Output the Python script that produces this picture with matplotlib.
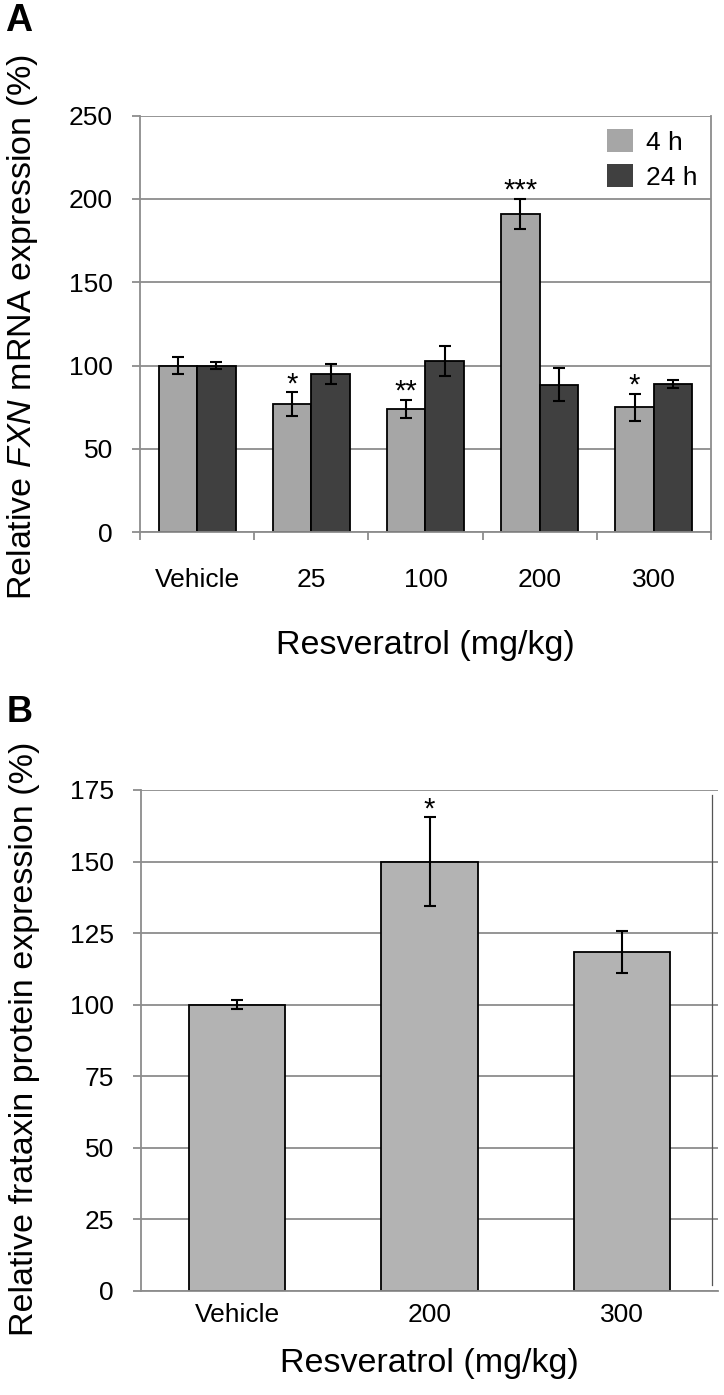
import matplotlib
matplotlib.use("Agg")
import matplotlib.pyplot as plt
from matplotlib.patches import Patch
import numpy as np

plt.rcParams['font.family'] = ['Liberation Sans', 'DejaVu Sans']
plt.rcParams['mathtext.fontset'] = 'custom'
plt.rcParams['mathtext.rm'] = 'Liberation Sans'
plt.rcParams['mathtext.it'] = 'Liberation Sans:italic'

# panel A data
cats_a = ["Vehicle", "25", "100", "200", "300"]
h4 = [100, 77, 74, 191, 75]
h4_err = [5, 7, 5.5, 9, 8]
h24 = [100, 95, 102.5, 88.5, 89]
h24_err = [2, 6, 9, 10, 2.5]
stars_a = ["", "*", "**", "***", "*"]

# panel B data
cats_b = ["Vehicle", "200", "300"]
prot = [100, 150, 118.4]
prot_err = [1.6, 15.5, 7.4]
stars_b = ["", "*", ""]

c4 = "#a6a6a6"
c24 = "#404040"
grid_c = "#8c8c8c"
tick_fs = 19
label_fs = 24.5
star_fs = 21

fig = plt.figure(figsize=(7.24, 13.95), dpi=100)
ax1 = fig.add_axes([0.1934, 0.6184, 0.7886, 0.2988])
ax2 = fig.add_axes([0.1948, 0.0746, 0.7969, 0.3591])


def style(ax):
    ax.set_axisbelow(True)
    ax.yaxis.grid(True, color=grid_c, linewidth=1.3)
    for s in ["left", "bottom", "right"]:
        ax.spines[s].set_color(grid_c)
        ax.spines[s].set_linewidth(1.3)
    ax.spines["top"].set_visible(False)
    ax.tick_params(axis="y", length=5.5, width=1.3, color=grid_c,
                   labelsize=tick_fs, pad=14)
    ax.tick_params(axis="x", which="major", length=0, labelsize=tick_fs)


# ---- panel A ----
x = np.arange(len(cats_a))
w = 0.337
eb = dict(ecolor="black", elinewidth=1.5, capsize=4.5, capthick=1.5)
ax1.bar(x - w / 2, h4, w, yerr=h4_err, color=c4, edgecolor="black",
        linewidth=1.3, error_kw=eb)
ax1.bar(x + w / 2, h24, w, yerr=h24_err, color=c24, edgecolor="black",
        linewidth=1.3, error_kw=eb)
for i in range(len(cats_a)):
    if stars_a[i]:
        ax1.annotate(stars_a[i], (x[i] - w / 2, h4[i] + h4_err[i]),
                     xytext=(0, 0), textcoords="offset points",
                     ha="center", va="baseline", fontsize=star_fs)
style(ax1)
ax1.set_xlim(-0.5, len(cats_a) - 0.5)
ax1.set_ylim(0, 250)
ax1.set_yticks(range(0, 251, 50))
ax1.set_xticks(x)
ax1.set_xticklabels(cats_a)
ax1.set_xticks(np.arange(-0.5, len(cats_a), 1), minor=True)
ax1.tick_params(axis="x", which="minor", length=6, width=1.3, color=grid_c)
ax1.tick_params(axis="x", which="major", pad=26)
ax1.set_ylabel(r"Relative $\mathit{FXN}$ mRNA expression (%)", fontsize=label_fs)
ax1.yaxis.set_label_coords(-0.175, 0.4926)
ax1.set_xlabel("Resveratrol (mg/kg)", fontsize=label_fs)
ax1.xaxis.label.set_va("center")
ax1.xaxis.set_label_coords(0.5, -0.2704)
handles = [Patch(facecolor=c4, edgecolor="none", label="4 h"),
           Patch(facecolor=c24, edgecolor="none", label="24 h")]
ax1.legend(handles=handles, loc="upper right", frameon=False, fontsize=tick_fs,
           handlelength=1.0, handleheight=1.0, handletextpad=0.5,
           labelspacing=0.35, borderaxespad=0.2, borderpad=0.3)

# ---- panel B ----
xb = np.arange(len(cats_b))
ax2.bar(xb, prot, 0.5, yerr=prot_err, color="#b3b3b3", edgecolor="black",
        linewidth=1.3, error_kw=eb)
for i in range(len(cats_b)):
    if stars_b[i]:
        ax2.annotate(stars_b[i], (xb[i], prot[i] + prot_err[i]),
                     xytext=(0, 0), textcoords="offset points",
                     ha="center", va="baseline", fontsize=star_fs)
style(ax2)
ax2.spines["right"].set_visible(False)
ax2.set_xlim(-0.5, len(cats_b) - 0.5)
ax2.set_ylim(0, 175)
ax2.set_yticks(range(0, 176, 25))
ax2.set_xticks(xb)
ax2.set_xticklabels(cats_b)
ax2.tick_params(axis="x", which="major", pad=9)
ax2.plot([0.989, 0.989], [0.012, 0.99], transform=ax2.transAxes,
         color="#555555", linewidth=0.9, clip_on=False)
ax2.set_ylabel("Relative frataxin protein expression (%)", fontsize=label_fs)
ax2.yaxis.set_label_coords(-0.175, 0.504)
ax2.set_xlabel("Resveratrol (mg/kg)", fontsize=label_fs)
ax2.xaxis.label.set_va("center")
ax2.xaxis.set_label_coords(0.5, -0.1457)

fig.text(0.007, 1 - 31 / 1395, "A", fontsize=27, fontweight="bold", va="baseline")
fig.text(0.009, 1 - 722 / 1395, "B", fontsize=26, fontweight="bold", va="baseline")

fig.savefig("out.png", dpi=100)
